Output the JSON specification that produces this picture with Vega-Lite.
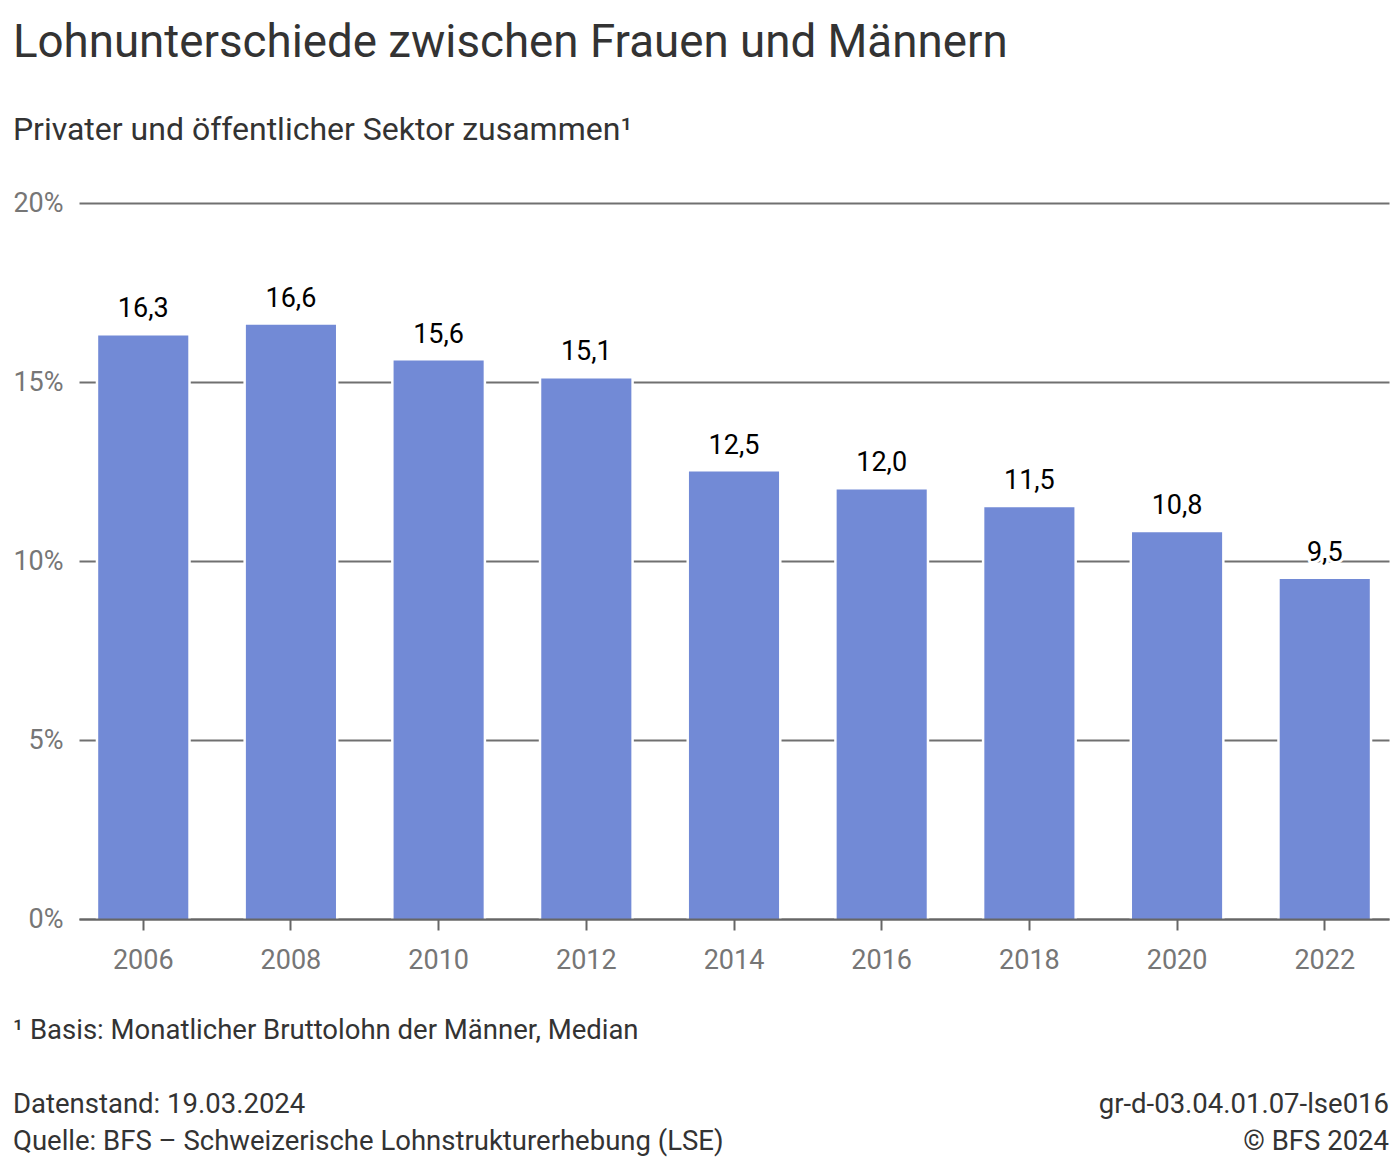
{
  "$schema": "https://vega.github.io/schema/vega-lite/v6.json",
  "padding": {"left": 12, "top": 20, "right": 12, "bottom": 0},
  "background": "white",
  "config": {
    "font": "Roboto",
    "view": {"stroke": null},
    "locale": {
      "number": {"decimal": ",", "thousands": "'", "grouping": [3], "currency": ["", " CHF"]}
    }
  },
  "title": {
    "text": "Lohnunterschiede zwischen Frauen und Männern",
    "subtitle": "Privater und öffentlicher Sektor zusammen¹",
    "anchor": "start",
    "fontSize": 45.7,
    "fontWeight": "normal",
    "color": "#333333",
    "subtitleFontSize": 32,
    "subtitleColor": "#333333",
    "subtitlePadding": 48,
    "offset": 42.3
  },
  "spacing": 38,
  "vconcat": [
    {
      "width": 1310,
      "height": 716,
      "data": {
        "values": [
          {"jahr": "2006", "lohnunterschied": 16.3},
          {"jahr": "2008", "lohnunterschied": 16.6},
          {"jahr": "2010", "lohnunterschied": 15.6},
          {"jahr": "2012", "lohnunterschied": 15.1},
          {"jahr": "2014", "lohnunterschied": 12.5},
          {"jahr": "2016", "lohnunterschied": 12.0},
          {"jahr": "2018", "lohnunterschied": 11.5},
          {"jahr": "2020", "lohnunterschied": 10.8},
          {"jahr": "2022", "lohnunterschied": 9.5}
        ]
      },
      "encoding": {
        "x": {
          "field": "jahr",
          "type": "ordinal",
          "scale": {"paddingInner": 0.39, "paddingOuter": 0.13},
          "axis": {
            "title": null,
            "labelAngle": 0,
            "labelFontSize": 27,
            "labelColor": "#767676",
            "labelPadding": 17.5,
            "domainColor": "#666666",
            "domainWidth": 2,
            "tickColor": "#666666",
            "tickWidth": 2,
            "tickSize": 11,
            "zindex": 1
          }
        },
        "y": {
          "field": "lohnunterschied",
          "type": "quantitative",
          "scale": {"domain": [0, 20]},
          "axis": {
            "title": null,
            "values": [0, 5, 10, 15, 20],
            "labelExpr": "datum.value + '%'",
            "labelFontSize": 27,
            "labelColor": "#767676",
            "labelPadding": 16,
            "domain": false,
            "ticks": false,
            "gridColor": "#707070",
            "gridWidth": 2,
            "minExtent": 66,
            "maxExtent": 66
          }
        }
      },
      "layer": [
        {"mark": {"type": "bar", "color": "white", "width": {"band": 1.055}}},
        {"mark": {"type": "bar", "color": "#728ad6"}},
        {
          "mark": {"type": "text", "baseline": "bottom", "dy": -12, "fontSize": 27, "fill": "white", "stroke": "white", "strokeWidth": 6, "strokeJoin": "round"},
          "encoding": {"text": {"field": "lohnunterschied", "type": "quantitative", "format": ".1f"}}
        },
        {
          "mark": {"type": "text", "baseline": "bottom", "dy": -12, "fontSize": 27, "fill": "#000000"},
          "encoding": {"text": {"field": "lohnunterschied", "type": "quantitative", "format": ".1f"}}
        }
      ]
    },
    {
      "width": 1310,
      "height": 148,
      "data": {
        "values": [
          {"zeile": "fussnote", "seite": "links", "text": "¹ Basis: Monatlicher Bruttolohn der Männer, Median"},
          {"zeile": "datenstand", "seite": "links", "text": "Datenstand: 19.03.2024"},
          {"zeile": "quelle", "seite": "links", "text": "Quelle: BFS – Schweizerische Lohnstrukturerhebung (LSE)"},
          {"zeile": "datenstand", "seite": "rechts", "text": "gr-d-03.04.01.07-lse016"},
          {"zeile": "quelle", "seite": "rechts", "text": "© BFS 2024"}
        ]
      },
      "encoding": {
        "x": {
          "field": "seite",
          "type": "nominal",
          "scale": {"type": "point", "domain": ["links", "rechts"], "padding": 0},
          "axis": null
        },
        "y": {
          "field": "zeile",
          "type": "nominal",
          "scale": {"type": "point", "domain": ["fussnote", "abstand", "datenstand", "quelle"], "padding": 0.5},
          "axis": null
        },
        "text": {"field": "text", "type": "nominal"}
      },
      "layer": [
        {
          "transform": [{"filter": "datum.seite === 'links'"}],
          "mark": {"type": "text", "align": "left", "baseline": "middle", "dx": -66, "fontSize": 27.5, "fill": "#333333"}
        },
        {
          "transform": [{"filter": "datum.seite === 'rechts'"}],
          "mark": {"type": "text", "align": "right", "baseline": "middle", "fontSize": 27.5, "fill": "#333333"}
        }
      ]
    }
  ]
}
